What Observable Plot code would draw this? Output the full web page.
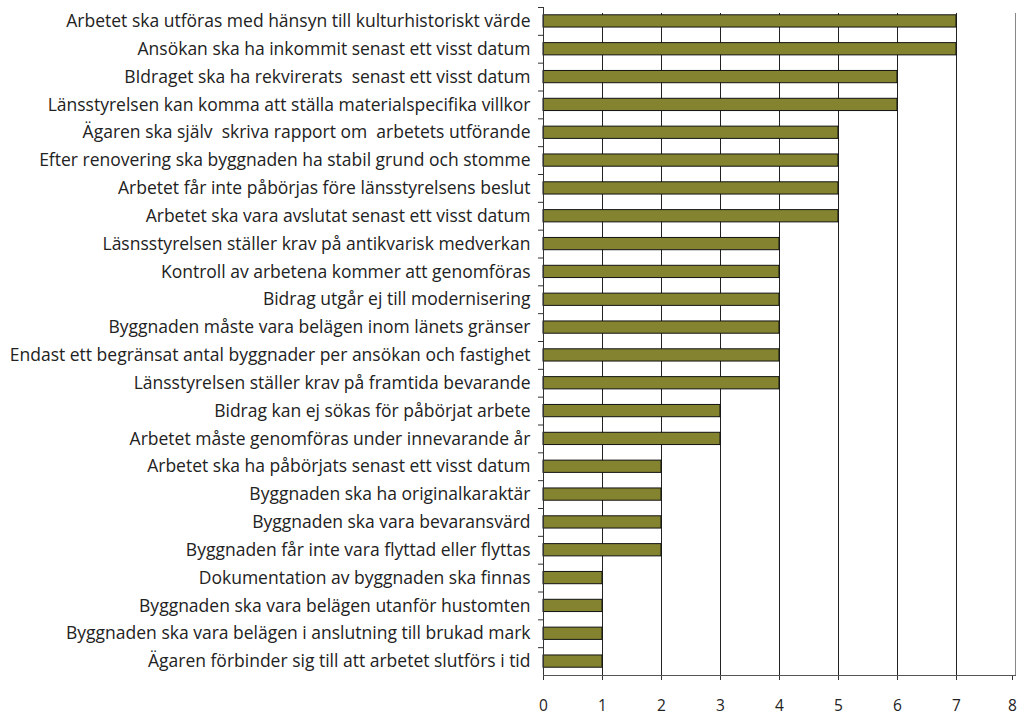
<!DOCTYPE html>
<html><head><meta charset="utf-8">
<script src="https://cdn.jsdelivr.net/npm/d3@7"></script>
<script src="https://cdn.jsdelivr.net/npm/@observablehq/plot@0.6"></script>
<style>body{margin:0;background:#fff}</style>
</head><body><div id="chart"></div>
<script>
const categories = [
"Arbetet ska utföras med hänsyn till kulturhistoriskt värde",
"Ansökan ska ha inkommit senast ett visst datum",
"BIdraget ska ha rekvirerats  senast ett visst datum",
"Länsstyrelsen kan komma att ställa materialspecifika villkor",
"Ägaren ska själv  skriva rapport om  arbetets utförande",
"Efter renovering ska byggnaden ha stabil grund och stomme",
"Arbetet får inte påbörjas före länsstyrelsens beslut",
"Arbetet ska vara avslutat senast ett visst datum",
"Läsnsstyrelsen ställer krav på antikvarisk medverkan",
"Kontroll av arbetena kommer att genomföras",
"Bidrag utgår ej till modernisering",
"Byggnaden måste vara belägen inom länets gränser",
"Endast ett begränsat antal byggnader per ansökan och fastighet",
"Länsstyrelsen ställer krav på framtida bevarande",
"Bidrag kan ej sökas för påbörjat arbete",
"Arbetet måste genomföras under innevarande år",
"Arbetet ska ha påbörjats senast ett visst datum",
"Byggnaden ska ha originalkaraktär",
"Byggnaden ska vara bevaransvärd",
"Byggnaden får inte vara flyttad eller flyttas",
"Dokumentation av byggnaden ska finnas",
"Byggnaden ska vara belägen utanför hustomten",
"Byggnaden ska vara belägen i anslutning till brukad mark",
"Ägaren förbinder sig till att arbetet slutförs i tid"
];
const values = [7,7,6,6,5,5,5,5,4,4,4,4,4,4,3,3,2,2,2,2,1,1,1,1];
const xTicks = [0,1,2,3,4,5,6,7,8];
const data = categories.map((c,i)=>({cat:c, v:values[i]}));
const H = 717, mTop = 7, mBottom = 42;
const band = (H - mTop - mBottom) / categories.length;

const chart = Plot.plot({
  width: 1018, height: H,
  marginLeft: 543, marginRight: 3, marginTop: mTop, marginBottom: mBottom,
  style: {fontFamily: "'Open Sans', sans-serif", color: "#222", background: "#fff"},
  x: {domain: [0, 8], label: null},
  y: {domain: categories, paddingInner: 0.56, paddingOuter: 0.28, round: false, label: null},
  marks: [
    Plot.ruleX(xTicks.filter(d=>d>0), {x: d=>d, stroke: d=>d===8 ? "#888" : "#222", strokeWidth: 1, insetTop: 6}),
    Plot.barX(data, {y: "cat", x: "v", fill: "#848430", stroke: "#111", strokeWidth: 1}),
    Plot.ruleX([0], {stroke: "#333"}),
    Plot.axisY({tickSize: 5, tickFormat: null, dy: -band/2, stroke: "#333", label: null}),
    Plot.axisY({tickSize: 0, tickPadding: 13, fontSize: 17.5, fill: "#222", label: null}),
    Plot.axisX(xTicks.slice(0, 8), {tickSize: 5, tickPadding: 19, fontSize: 15.5, fill: "#222", stroke: "#333", tickFormat: d=>String(d), label: null}),
    Plot.axisX(xTicks.slice(8), {tickSize: 5, tickPadding: 19, fontSize: 15.5, fill: "#222", stroke: "#333", tickFormat: d=>String(d), label: null, dx: -3}),
    Plot.frame({anchor: "bottom", stroke: "#555"})
  ]
});
document.getElementById("chart").appendChild(chart);
</script>
</body></html>
